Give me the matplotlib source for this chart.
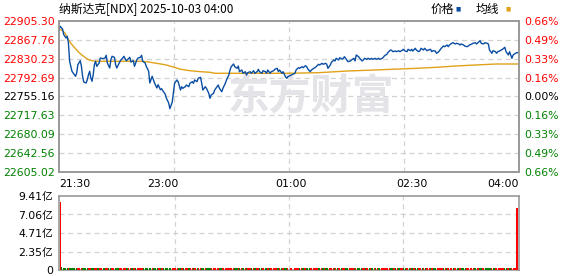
import matplotlib
matplotlib.use("Agg")
import matplotlib.pyplot as plt
import numpy as np

plt.rcParams['font.family'] = ['DejaVu Sans', 'Noto Sans CJK SC']

# data
pre_close = 22755.16
y_ticks = [22605.02, 22642.56, 22680.09, 22717.63, 22755.16, 22792.69, 22830.23, 22867.76, 22905.30]
pct_labels = ['0.66%', '0.49%', '0.33%', '0.16%', '0.00%', '0.16%', '0.33%', '0.49%', '0.66%']
time_labels = ['21:30', '23:00', '01:00', '02:30', '04:00']

price_t = [0, 1, 3, 4, 6, 7, 8, 9, 11, 12, 14, 15, 16, 18, 19, 20, 21, 23, 24, 25, 26, 27, 28, 29, 30, 31, 32, 34,
           35, 37, 39, 40, 41, 43, 44, 45, 47, 48, 49, 51, 52, 54, 55, 57, 58, 60, 61, 63, 64, 66, 67, 69, 70, 71,
           73, 74, 76, 77, 79, 80, 81, 83, 84, 86, 87, 88, 90, 91, 93, 94, 96, 97, 98, 100, 101, 103, 104, 105,
           107, 108, 110, 111, 113, 114, 115, 117, 118, 120, 121, 122, 124, 125, 127, 128, 129, 131, 132, 134,
           135, 136, 138, 139, 141, 142, 144, 145, 146, 148, 149, 151, 152, 153, 155, 156, 158, 159, 160, 162,
           163, 165, 166, 168, 169, 170, 172, 173, 175, 176, 177, 179, 180, 182, 183, 185, 186, 187, 189, 190,
           192, 193, 194, 197, 200, 201, 203, 204, 206, 207, 209, 210, 211, 213, 214, 216, 217, 218, 220, 221,
           223, 224, 226, 227, 228, 230, 231, 233, 234, 235, 237, 238, 240, 241, 242, 244, 245, 247, 248, 250,
           251, 252, 254, 255, 257, 258, 259, 261, 262, 264, 265, 266, 268, 269, 271, 272, 274, 275, 276, 278,
           279, 281, 282, 283, 285, 286, 288, 289, 291, 292, 293, 295, 296, 298, 299, 300, 302, 303, 305, 306,
           307, 309, 310, 312, 313, 315, 316, 317, 319, 320, 322, 323, 324, 326, 327, 329, 330, 331, 333, 334,
           336, 337, 339, 340, 341, 343, 344, 346, 347, 348, 350, 351, 353, 354, 356, 357, 358, 360, 361, 363,
           364, 365, 367, 368, 370, 371, 372, 374, 375, 376, 378, 379, 381, 382, 384, 385, 387, 388, 390]
price = [22888.0, 22894.8, 22889.4, 22878.1, 22871.5, 22874.9, 22861.6, 22825.2, 22805.3, 22801.9, 22795.3,
         22801.9, 22818.4, 22826.4, 22815.2, 22795.3, 22784.0, 22782.0, 22788.6, 22798.5, 22805.3, 22791.9,
         22785.4, 22798.5, 22818.4, 22825.2, 22815.2, 22821.8, 22831.7, 22830.3, 22831.7, 22837.1, 22821.8,
         22811.8, 22828.3, 22835.1, 22833.1, 22818.4, 22811.8, 22821.8, 22826.4, 22831.7, 22835.1, 22826.4,
         22828.3, 22833.1, 22823.8, 22826.4, 22815.2, 22828.3, 22831.7, 22833.1, 22837.1, 22825.2, 22821.8,
         22815.2, 22805.3, 22782.0, 22795.3, 22788.6, 22782.0, 22772.1, 22778.6, 22768.7, 22770.7, 22766.7,
         22760.1, 22752.2, 22742.2, 22730.9, 22744.0, 22762.1, 22781.4, 22788.0, 22784.6, 22768.1, 22774.6,
         22771.5, 22774.6, 22778.0, 22774.6, 22781.4, 22784.6, 22781.4, 22788.0, 22784.6, 22791.4, 22793.3,
         22781.4, 22768.1, 22774.6, 22771.5, 22761.5, 22751.6, 22758.1, 22761.5, 22768.1, 22774.6, 22778.0,
         22771.5, 22764.7, 22771.5, 22781.4, 22788.0, 22797.9, 22807.9, 22814.4, 22819.8, 22814.4, 22811.2,
         22815.8, 22804.5, 22807.9, 22801.3, 22804.5, 22797.9, 22802.5, 22804.5, 22801.3, 22806.5, 22801.3,
         22804.5, 22809.3, 22804.5, 22801.3, 22806.5, 22804.5, 22801.3, 22807.9, 22801.3, 22804.5, 22806.5,
         22809.3, 22811.2, 22804.5, 22807.9, 22801.3, 22804.5, 22794.5, 22791.4, 22794.5, 22797.9, 22801.3,
         22807.9, 22812.4, 22811.2, 22814.4, 22812.4, 22816.4, 22814.4, 22809.8, 22804.5, 22807.9, 22811.2,
         22812.4, 22814.4, 22819.2, 22817.8, 22821.2, 22819.2, 22821.2, 22819.2, 22811.2, 22817.8, 22823.2,
         22827.7, 22825.8, 22831.1, 22827.7, 22832.3, 22829.7, 22831.1, 22834.3, 22827.7, 22824.4, 22825.8,
         22827.7, 22831.1, 22825.8, 22837.7, 22834.3, 22831.1, 22825.8, 22827.7, 22831.1, 22829.1, 22831.1,
         22829.1, 22831.1, 22829.1, 22831.1, 22829.1, 22831.1, 22829.1, 22831.1, 22833.1, 22836.3, 22839.1,
         22843.1, 22847.6, 22847.0, 22844.3, 22845.6, 22844.3, 22846.2, 22844.3, 22847.0, 22849.0, 22846.2,
         22844.3, 22849.0, 22846.2, 22849.0, 22845.6, 22851.0, 22847.6, 22844.3, 22846.2, 22851.0, 22847.6,
         22851.0, 22846.2, 22847.6, 22849.0, 22844.3, 22846.2, 22845.6, 22841.1, 22844.3, 22847.6, 22851.0,
         22855.6, 22854.2, 22857.6, 22854.2, 22857.6, 22861.0, 22862.1, 22859.6, 22861.0, 22859.6, 22857.6,
         22859.6, 22857.6, 22855.6, 22854.2, 22855.6, 22857.6, 22859.6, 22861.0, 22862.1, 22859.6, 22864.1,
         22866.1, 22861.0, 22859.6, 22862.1, 22861.0, 22859.6, 22847.6, 22841.1, 22846.2, 22844.3, 22841.1,
         22844.3, 22846.2, 22847.6, 22849.0, 22853.0, 22844.3, 22837.7, 22844.3, 22831.1, 22837.7, 22841.1,
         22842.3, 22842.3]

avg_t = [0, 2, 5, 8, 11, 14, 16, 19, 22, 25, 28, 31, 70, 76, 81, 90, 97, 103, 111, 120, 128, 132, 192, 220,
         245, 268, 288, 303, 320, 336, 353, 371, 390]
avg = [22888.0, 22888.0, 22881.4, 22868.1, 22858.2, 22850.2, 22845.0, 22838.3, 22833.1, 22828.3, 22826.4,
       22825.2, 22825.2, 22823.8, 22821.8, 22818.4, 22813.8, 22809.3, 22806.5, 22804.5, 22803.3, 22801.3,
       22801.3, 22802.5, 22805.9, 22807.9, 22809.8, 22811.2, 22813.2, 22815.8, 22817.8, 22819.8, 22819.8]

# volume (亿): big opening and closing prints, tiny bars in between
vol_open = 8.69
vol_second = 0.35
vol_close = 7.84
vol_typical = 0.2
vol_ticks = [0, 2.35, 4.71, 7.06, 9.41]

RED = '#ff0000'
GREEN = '#008000'
BLUE = '#0a4ea3'
GOLD = '#e0a21a'
GRID = '#d2d2d2'
EDGE = '#999999'

fig = plt.figure(figsize=(5.78, 2.76), dpi=100)
ax = fig.add_axes([59 / 578, 1 - 172 / 276, 460 / 578, 151 / 276])
axv = fig.add_axes([59 / 578, 1 - 270 / 276, 460 / 578, 74 / 276])

grid_x = [97.5, 195, 292.5]

# ---- price panel
ax.set_xlim(0, 390)
ax.set_ylim(y_ticks[0], y_ticks[-1])
for y in y_ticks[1:-1]:
    ax.axhline(y, color=GRID, lw=0.9, ls=(0, (4, 3)), zorder=0)
for x in grid_x:
    ax.axvline(x, color=GRID, lw=0.9, ls=(0, (4, 3)), zorder=0)

ax.text(0.548, 0.5, '东方财富', transform=ax.transAxes, fontsize=30, fontweight='bold',
        color='#e3e3e8', ha='center', va='center', family=['Noto Sans CJK SC'], zorder=0.5)

ax.plot(avg_t, avg, color=GOLD, lw=1.0, zorder=2)
ax.plot(price_t, price, color=BLUE, lw=1.0, zorder=3)

ax.set_yticks(y_ticks)
ax.set_yticklabels(['%.2f' % v for v in y_ticks], fontsize=7.8)
for lab, v in zip(ax.get_yticklabels(), y_ticks):
    lab.set_color(RED if v > pre_close + 0.01 else (GREEN if v < pre_close - 0.01 else 'black'))
ax.tick_params(axis='y', length=0, pad=3)
ax.set_xticks([])

axr = ax.twinx()
axr.set_ylim(ax.get_ylim())
axr.set_yticks(y_ticks)
axr.set_yticklabels(pct_labels[::-1], fontsize=7.8)
for lab, v in zip(axr.get_yticklabels(), y_ticks):
    lab.set_color(RED if v > pre_close + 0.01 else (GREEN if v < pre_close - 0.01 else 'black'))
axr.tick_params(axis='y', length=0, pad=4)

for a in (ax, axr):
    for s in a.spines.values():
        s.set_color(EDGE)
        s.set_linewidth(1.2)

# time labels under price panel
lab_pos = [0, 88, 197, 299, 390]
lab_ha = ['left', 'center', 'center', 'center', 'right']
for p, t, h in zip(lab_pos, time_labels, lab_ha):
    ax.text(p, -0.045, t, transform=ax.get_xaxis_transform(), ha=h, va='top', fontsize=7.8)

# ---- volume panel
n = len(price_t)
vol = [vol_typical] * n
vol[0] = vol_open
vol[1] = vol_second
vol[-1] = vol_close
colors = [RED]
for i in range(1, n):
    colors.append(RED if price[i] >= price[i - 1] else GREEN)
colors[-1] = RED
colors[1] = GREEN

axv.set_xlim(-1.2, 391.5)
axv.set_ylim(0, vol_ticks[-1])
for y in vol_ticks[1:-1]:
    axv.axhline(y, color=GRID, lw=0.9, ls=(0, (4, 3)), zorder=0)
for x in grid_x:
    axv.axvline(x, color=GRID, lw=0.9, ls=(0, (4, 3)), zorder=0)
axv.bar(price_t, vol, width=1.4, color=colors, linewidth=0, zorder=3)
axv.set_yticks(vol_ticks)
axv.set_yticklabels(['0'] + ['%.2f亿' % v for v in vol_ticks[1:]], fontsize=7.8)
axv.tick_params(axis='y', length=0, pad=4)
axv.set_xticks([])
for s in axv.spines.values():
    s.set_color(EDGE)
    s.set_linewidth(1.2)

# ---- title and legend
fig.text(59 / 578, 1 - 9 / 276, '纳斯达克[NDX] 2025-10-03 04:00', fontsize=8.5, va='center', ha='left',
         family=['Noto Sans CJK SC', 'DejaVu Sans'])
fig.text(431 / 578, 1 - 9 / 276, '价格', fontsize=8.5, va='center', ha='left',
         family=['Noto Sans CJK SC'])
fig.text(456 / 578, 1 - 9 / 276, '■', fontsize=4, va='center', ha='left', color=BLUE)
fig.text(476 / 578, 1 - 9 / 276, '均线', fontsize=8.5, va='center', ha='left',
         family=['Noto Sans CJK SC'])
fig.text(506 / 578, 1 - 9 / 276, '■', fontsize=4, va='center', ha='left', color=GOLD)

fig.savefig('out.png', dpi=100)
